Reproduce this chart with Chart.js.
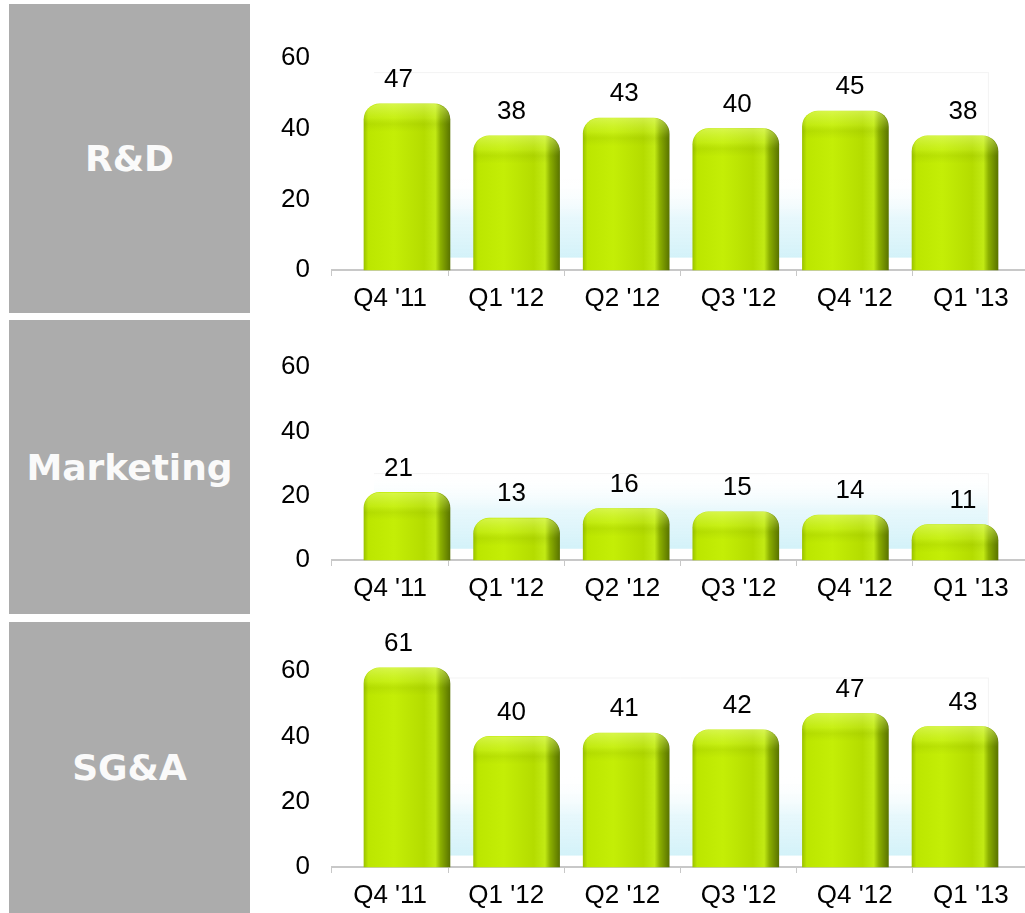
<!DOCTYPE html>
<html>
<head>
<meta charset="utf-8">
<script src="https://cdn.jsdelivr.net/npm/chart.js@4.4.1/dist/chart.umd.min.js"></script>
<style>
  html, body { margin: 0; padding: 0; background: #fff; overflow: hidden; }
  body { width: 1025px; height: 913px; position: relative; }
  .label-box {
    position: absolute; left: 9px; width: 241px;
    background: #acacac; color: #fafafa;
    font: bold 36px "DejaVu Sans", Verdana, sans-serif;
    display: flex; align-items: center; justify-content: center;
  }
  canvas { position: absolute; left: 250px; }
</style>
</head>
<body>
<div class="label-box" style="top:4px;height:309px">R&amp;D</div>
<div class="label-box" style="top:320px;height:294px">Marketing</div>
<div class="label-box" style="top:622px;height:291px">SG&amp;A</div>
<canvas id="rdChart" style="top:8px"></canvas>
<canvas id="mktChart" style="top:317px"></canvas>
<canvas id="sgaChart" style="top:621px"></canvas>
<script>
const quarters = ["Q4 '11", "Q1 '12", "Q2 '12", "Q3 '12", "Q4 '12", "Q1 '13"];
const rdValues = [47, 38, 43, 40, 45, 38];
const marketingValues = [21, 13, 16, 15, 14, 11];
const sgaValues = [61, 40, 41, 42, 47, 43];
const yTicks = [0, 20, 40, 60];

const BAR_W = 86;
const TOP_PAD = 50;
const X_AXIS_H = 46;
const FONT = '"Liberation Sans", Arial, sans-serif';

Chart.defaults.font.family = FONT;
Chart.defaults.font.size = 26;
Chart.defaults.color = '#000';

// glossy green face: lit left/centre, dark side on the right
function barFill(context) {
  const chart = context.chart;
  if (!chart.chartArea || context.type !== 'data') return '#b8e000';
  const cx = chart.scales.xb.getPixelForValue(context.dataIndex);
  const g = chart.ctx.createLinearGradient(cx - BAR_W / 2, 0, cx + BAR_W / 2, 0);
  g.addColorStop(0, '#9cc400');
  g.addColorStop(0.05, '#bce600');
  g.addColorStop(0.35, '#c4ee06');
  g.addColorStop(0.7, '#b4dc00');
  g.addColorStop(0.83, '#c2ea14');
  g.addColorStop(0.89, '#8cb000');
  g.addColorStop(1, '#5a7400');
  return g;
}

const barDecor = {
  id: 'barDecor',
  beforeDatasetsDraw(chart, args, opts) {
    // pale back wall behind the bars
    const { ctx, scales: { xb, y } } = chart;
    const left = xb.getPixelForValue(-0.3);
    const right = xb.getPixelForValue(5.3);
    const top = y.getPixelForValue(opts.wallTop);
    const bottom = y.getPixelForValue(3.5);
    const fadeTop = Math.max(top, bottom - 80);
    const g = ctx.createLinearGradient(0, fadeTop, 0, bottom);
    g.addColorStop(0, 'rgba(255,255,255,0)');
    g.addColorStop(0.5, 'rgba(225,246,251,0.8)');
    g.addColorStop(1, '#d3f2f9');
    ctx.save();
    ctx.fillStyle = g;
    ctx.fillRect(left, fadeTop, right - left, bottom - fadeTop);
    ctx.strokeStyle = '#f3f3f3';
    ctx.lineWidth = 1;
    ctx.beginPath();
    ctx.moveTo(left, top + 0.5);
    ctx.lineTo(right, top + 0.5);
    ctx.moveTo(right + 0.5, top);
    ctx.lineTo(right + 0.5, bottom);
    ctx.stroke();
    ctx.restore();
  },
  afterDatasetsDraw(chart) {
    const { ctx, scales: { x } } = chart;
    const meta = chart.getDatasetMeta(0);
    const data = chart.data.datasets[0].data;
    ctx.save();
    meta.data.forEach((bar, i) => {
      const { x: bx, y: by, base, width } = bar.getProps(['x', 'y', 'base', 'width'], true);
      // rounded cap highlight
      ctx.save();
      ctx.beginPath();
      ctx.roundRect(bx - width / 2, by, width, base - by, [16, 16, 0, 0]);
      ctx.clip();
      const h = ctx.createLinearGradient(0, by, 0, by + 28);
      h.addColorStop(0, 'rgba(235,255,140,0.5)');
      h.addColorStop(0.5, 'rgba(225,255,110,0.15)');
      h.addColorStop(0.72, 'rgba(100,130,0,0.1)');
      h.addColorStop(1, 'rgba(100,130,0,0)');
      ctx.fillStyle = h;
      ctx.fillRect(bx - width / 2, by, width, 28);
      ctx.restore();

      // value above the bar
      ctx.fillStyle = '#000';
      ctx.font = '26px ' + FONT;
      ctx.textAlign = 'center';
      ctx.textBaseline = 'middle';
      const lx = (bx + x.getPixelForValue(i)) / 2;
      ctx.fillText(String(data[i].y), lx, by - 24);
    });
    ctx.restore();
  }
};

function makeChart(id, values, plotHeight, wallTop) {
  const canvas = document.getElementById(id);
  canvas.width = 779;
  canvas.height = TOP_PAD + plotHeight + X_AXIS_H;
  canvas.style.width = canvas.width + 'px';
  canvas.style.height = canvas.height + 'px';

  return new Chart(canvas, {
    type: 'bar',
    data: {
      labels: quarters,
      datasets: [{
        data: values.map((v, i) => ({ x: i, y: v })),
        xAxisID: 'xb',
        yAxisID: 'y',
        barThickness: BAR_W,
        backgroundColor: barFill,
        borderWidth: 0,
        borderRadius: 16,
        borderSkipped: 'start',
        clip: false
      }]
    },
    options: {
      responsive: false,
      animation: false,
      layout: { padding: { top: TOP_PAD, left: 0, right: 0, bottom: 0 } },
      plugins: {
        legend: { display: false },
        tooltip: { enabled: false },
        barDecor: { wallTop: wallTop }
      },
      scales: {
        x: {
          type: 'category',
          position: 'bottom',
          offset: true,
          grid: { offset: true, drawOnChartArea: false, color: '#c8c8c8', tickLength: 6, lineWidth: 1 },
          border: { color: '#c8c8c8', width: 2 },
          ticks: { padding: 7, maxRotation: 0, autoSkip: false, color: '#000' },
          afterFit: axis => { axis.height = X_AXIS_H; }
        },
        // bars stand on a slightly narrower floor than the category ticks
        xb: {
          type: 'linear',
          display: false,
          offset: false,
          min: -0.684,
          max: 5.675
        },
        y: {
          type: 'linear',
          min: 0,
          max: 60,
          grid: { display: false, drawTicks: false },
          border: { display: false },
          ticks: { padding: 22, color: '#000' },
          afterBuildTicks: axis => { axis.ticks = yTicks.map(v => ({ value: v })); },
          afterFit: axis => { axis.width = 82; }
        }
      }
    },
    plugins: [barDecor]
  });
}

makeChart('rdChart', rdValues, 212, 56);
makeChart('mktChart', marketingValues, 193, 27);
makeChart('sgaChart', sgaValues, 196, 58);
</script>
</body>
</html>
